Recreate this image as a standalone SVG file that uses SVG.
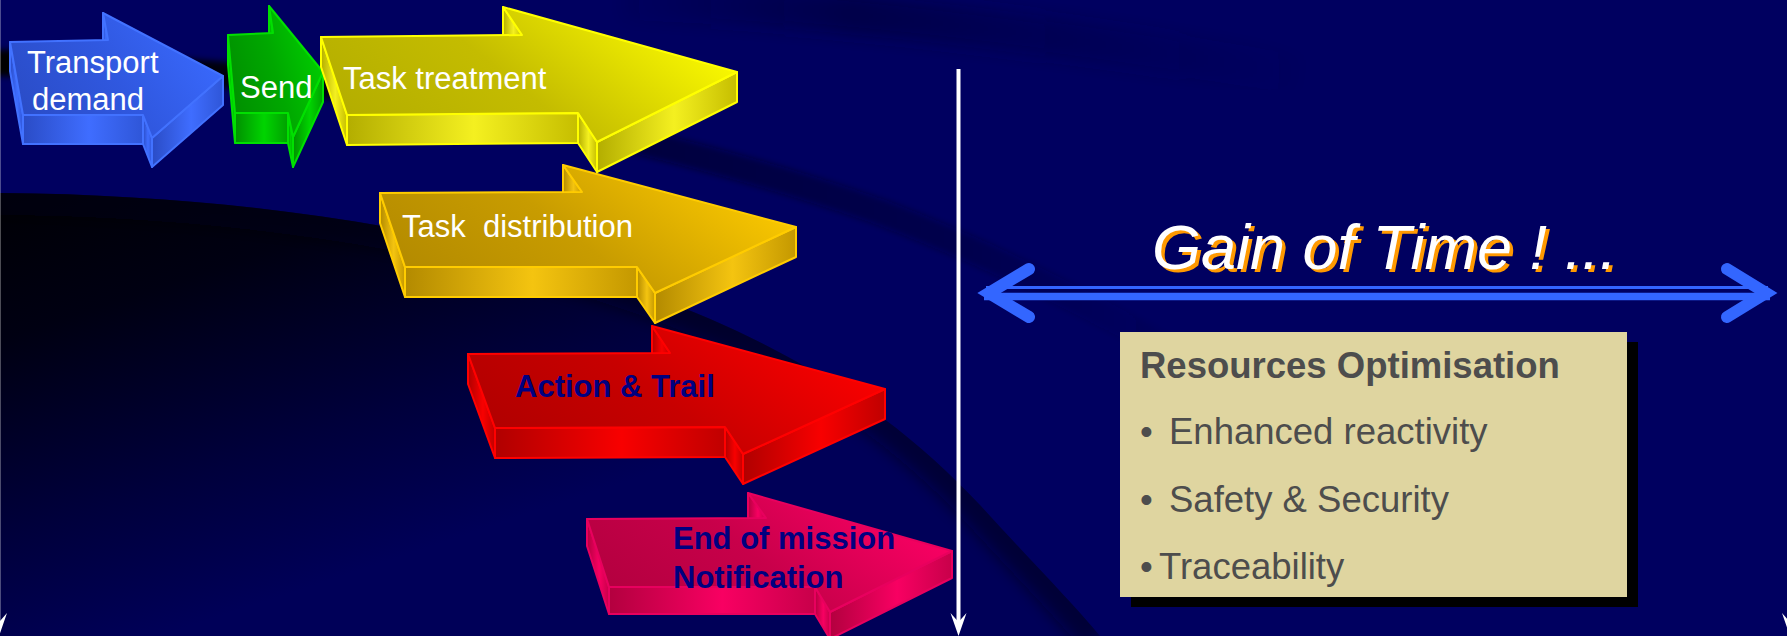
<svg xmlns="http://www.w3.org/2000/svg" width="1787" height="636" viewBox="0 0 1787 636">
<style>
.t{font-family:"Liberation Sans",Arial,Helvetica,sans-serif}
.w{fill:#ffffff;font-size:31px}
.n{fill:#000080;font-size:31px;font-weight:bold}
.g{fill:#4d4d4d;font-size:36.5px}
.edge{stroke-width:2;stroke-linejoin:round}
.blue{stroke:#4272ff}.green{stroke:#00e000}.yellow{stroke:#ffff00}.gold{stroke:#ffcc00}.red{stroke:#ff0000}.pink{stroke:#e8005e}
</style>
<defs>
<linearGradient id="regionG" gradientUnits="userSpaceOnUse" x1="0" y1="190" x2="150" y2="640">
<stop offset="0" stop-color="#000004"/><stop offset="0.3" stop-color="#000012"/><stop offset="0.7" stop-color="#00003c"/><stop offset="1" stop-color="#000058"/>
</linearGradient>
<clipPath id="regionClip"><path d="M0,193 C260,195 480,235 650,295 C800,350 900,420 980,505 C1030,560 1070,600 1100,636 L0,636 Z"/></clipPath>
<filter id="blur8" x="-20%" y="-20%" width="140%" height="140%"><feGaussianBlur stdDeviation="8"/></filter>
<filter id="blur3" x="-10%" y="-50%" width="120%" height="200%"><feGaussianBlur stdDeviation="3"/></filter>
<linearGradient id="bandA" gradientUnits="userSpaceOnUse" x1="0" y1="0" x2="1200" y2="0">
<stop offset="0" stop-color="#000000" stop-opacity="1"/><stop offset="0.3" stop-color="#000005" stop-opacity="0.8"/><stop offset="0.55" stop-color="#000010" stop-opacity="0.45"/><stop offset="0.8" stop-color="#000020" stop-opacity="0.3"/><stop offset="1" stop-color="#000030" stop-opacity="0"/>
</linearGradient>
<linearGradient id="bandD" gradientUnits="userSpaceOnUse" x1="600" y1="0" x2="1320" y2="0">
<stop offset="0" stop-color="#000030" stop-opacity="0"/><stop offset="0.35" stop-color="#000030" stop-opacity="0.45"/><stop offset="1" stop-color="#000040" stop-opacity="0"/>
</linearGradient>
<linearGradient id="blueT" x1="0" y1="0.7" x2="1" y2="0.3"><stop offset="0" stop-color="#2a4cc6"/><stop offset="0.5" stop-color="#3058e0"/><stop offset="1" stop-color="#3a6aff"/></linearGradient>
<linearGradient id="blueS" x1="0" y1="0" x2="1" y2="0"><stop offset="0" stop-color="#2a4cc6"/><stop offset="0.55" stop-color="#3f6dff"/><stop offset="1" stop-color="#2f56d8"/></linearGradient>
<linearGradient id="greenT" x1="0" y1="0.7" x2="1" y2="0.3"><stop offset="0" stop-color="#008e00"/><stop offset="0.5" stop-color="#00a800"/><stop offset="1" stop-color="#00d000"/></linearGradient>
<linearGradient id="greenS" x1="0" y1="0" x2="1" y2="0"><stop offset="0" stop-color="#009000"/><stop offset="0.55" stop-color="#00d400"/><stop offset="1" stop-color="#00a000"/></linearGradient>
<linearGradient id="yellowT" x1="0" y1="0.7" x2="1" y2="0.3"><stop offset="0" stop-color="#b3ad00"/><stop offset="0.45" stop-color="#c4bc00"/><stop offset="1" stop-color="#ffff00"/></linearGradient>
<linearGradient id="yellowS" x1="0" y1="0" x2="1" y2="0"><stop offset="0" stop-color="#b3ad00"/><stop offset="0.55" stop-color="#f4f020"/><stop offset="1" stop-color="#c6be00"/></linearGradient>
<linearGradient id="goldT" x1="0" y1="0.7" x2="1" y2="0.3"><stop offset="0" stop-color="#b38a00"/><stop offset="0.45" stop-color="#c89c00"/><stop offset="1" stop-color="#ffcc00"/></linearGradient>
<linearGradient id="goldS" x1="0" y1="0" x2="1" y2="0"><stop offset="0" stop-color="#b38a00"/><stop offset="0.55" stop-color="#f4c410"/><stop offset="1" stop-color="#c49800"/></linearGradient>
<linearGradient id="redT" x1="0" y1="0.7" x2="1" y2="0.3"><stop offset="0" stop-color="#b00000"/><stop offset="0.45" stop-color="#c80000"/><stop offset="1" stop-color="#ff0000"/></linearGradient>
<linearGradient id="redS" x1="0" y1="0" x2="1" y2="0"><stop offset="0" stop-color="#b00000"/><stop offset="0.55" stop-color="#f80000"/><stop offset="1" stop-color="#c00000"/></linearGradient>
<linearGradient id="pinkT" x1="0" y1="0.7" x2="1" y2="0.3"><stop offset="0" stop-color="#b3003f"/><stop offset="0.45" stop-color="#c8004a"/><stop offset="1" stop-color="#ff0066"/></linearGradient>
<linearGradient id="pinkS" x1="0" y1="0" x2="1" y2="0"><stop offset="0" stop-color="#b3003f"/><stop offset="0.55" stop-color="#f80062"/><stop offset="1" stop-color="#c8004a"/></linearGradient>
</defs>

<!-- background -->
<rect x="0" y="0" width="1787" height="636" fill="#000060"/>
<path d="M620,0 C800,5 1000,25 1300,75" fill="none" stroke="url(#bandD)" stroke-width="40" filter="url(#blur8)"/>
<path d="M0,193 C260,195 480,235 650,295 C800,350 900,420 980,505 C1030,560 1070,600 1100,636 L0,636 Z" fill="url(#regionG)"/>
<g clip-path="url(#regionClip)">
<path d="M0,193 C260,195 480,235 650,295 C800,350 900,420 980,505 C1030,560 1070,600 1100,636" fill="none" stroke="#000018" stroke-opacity="0.5" stroke-width="44" filter="url(#blur8)"/>
</g>
<path d="M-10,63 C120,62 300,80 450,102 C600,128 760,170 880,212 C980,250 1070,295 1180,355" fill="none" stroke="url(#bandA)" stroke-width="26" filter="url(#blur3)"/>

<!-- arrows -->
<g id="node-transport-demand">
<g class="edge blue" fill="url(#blueS)">
<polygon points="108,40 103,13 103,42 108,69"/>
<polygon points="23,115 10,42 10,71 23,144"/>
<polygon points="143,115 23,115 23,144 143,144"/>
<polygon points="152,138 143,115 143,144 152,167"/>
<polygon points="223,76 152,138 152,167 223,105"/>
</g>
<polygon class="edge blue" fill="url(#blueT)" points="10,42 108,40 103,13 223,76 152,138 143,115 23,115"/>
<text class="t w" x="27" y="73">Transport</text>
<text class="t w" x="32" y="110">demand</text>
</g>

<g id="node-send">
<g class="edge green" fill="url(#greenS)">
<polygon points="273,33 269,6 269,36 273,63"/>
<polygon points="235,113 228,35 228,65 235,143"/>
<polygon points="288,113 235,113 235,143 288,143"/>
<polygon points="293,137 288,113 288,143 293,167"/>
<polygon points="323,72 293,137 293,167 323,102"/>
</g>
<polygon class="edge green" fill="url(#greenT)" points="228,35 273,33 269,6 323,72 293,137 288,113 235,113"/>
<text class="t w" x="240" y="98">Send</text>
</g>

<g id="node-task-distribution">
<g class="edge gold" fill="url(#goldS)">
<polygon points="582,192 563,165 563,195 582,222"/>
<polygon points="405,267 380,193 380,223 405,297"/>
<polygon points="637,267 405,267 405,297 637,297"/>
<polygon points="655,293 637,267 637,297 655,323"/>
<polygon points="796,227 655,293 655,323 796,257"/>
</g>
<polygon class="edge gold" fill="url(#goldT)" points="380,193 582,192 563,165 796,227 655,293 637,267 405,267"/>
<text class="t w" x="402" y="237" xml:space="preserve">Task  distribution</text>
</g>

<g id="node-task-treatment">
<g class="edge yellow" fill="url(#yellowS)">
<polygon points="522,35 503,7 503,37 522,65"/>
<polygon points="347,115 321,37 321,67 347,145"/>
<polygon points="578,113 347,115 347,145 578,143"/>
<polygon points="597,142 578,113 578,143 597,172"/>
<polygon points="737,72 597,142 597,172 737,102"/>
</g>
<polygon class="edge yellow" fill="url(#yellowT)" points="321,37 522,35 503,7 737,72 597,142 578,113 347,115"/>
<text class="t w" x="343" y="89">Task treatment</text>
</g>

<g id="node-action-trail">
<g class="edge red" fill="url(#redS)">
<polygon points="670,353 652,326 652,356 670,383"/>
<polygon points="495,428 468,354 468,384 495,458"/>
<polygon points="725,427 495,428 495,458 725,457"/>
<polygon points="743,454 725,427 725,457 743,484"/>
<polygon points="885,389 743,454 743,484 885,419"/>
</g>
<polygon class="edge red" fill="url(#redT)" points="468,354 670,353 652,326 885,389 743,454 725,427 495,428"/>
<text class="t n" x="515" y="397">Action &amp; Trail</text>
</g>

<g id="node-end-of-mission">
<g class="edge pink" fill="url(#pinkS)">
<polygon points="766,518 748,493 748,520 766,545"/>
<polygon points="609,587 587,519 587,546 609,614"/>
<polygon points="815,587 609,587 609,614 815,614"/>
<polygon points="830,612 815,587 815,614 830,639"/>
<polygon points="952,551 830,612 830,639 952,578"/>
</g>
<polygon class="edge pink" fill="url(#pinkT)" points="587,519 766,518 748,493 952,551 830,612 815,587 609,587"/>
<text class="t n" x="673" y="549">End of mission</text>
<text class="t n" x="673" y="588">Notification</text>
</g>

<!-- connectors -->
<g id="connectors">
<line x1="958.5" y1="69" x2="958.5" y2="626" stroke="#ffffff" stroke-width="4"/>
<path d="M950.5,613 L958.5,636 L966.5,613 L958.5,622 Z" fill="#ffffff"/>
<line x1="-1.2" y1="0" x2="-1.2" y2="626" stroke="#ffffff" stroke-width="3"/>
<path d="M-9,613 L-1,636 L7,613 L-1,622 Z" fill="#ffffff"/>
<line x1="1790" y1="0" x2="1790" y2="626" stroke="#ffffff" stroke-width="4"/>
<path d="M1782,613 L1790,636 L1798,613 L1790,622 Z" fill="#ffffff"/>
<g id="gain-arrow" stroke="#3366ff" fill="none">
<line x1="986" y1="287.5" x2="1768" y2="287.5" stroke-width="3"/>
<line x1="984" y1="296.5" x2="1770" y2="296.5" stroke-width="7.5"/>
<polyline points="1029,269 989,293 1029,317" stroke-width="12" stroke-linecap="round" stroke-linejoin="miter"/>
<polyline points="1727,269 1766,293 1727,317" stroke-width="12" stroke-linecap="round" stroke-linejoin="miter"/>
</g>
</g>

<g id="gain-title">
<text class="t" x="1155.5" y="272" font-size="63" font-style="italic" fill="#ff9900">Gain of Time ! ...</text>
<text class="t" x="1152" y="269" font-size="63" font-style="italic" fill="#ffffff">Gain of Time ! ...</text>
</g>

<g id="node-resources">
<rect x="1131" y="342" width="507" height="265" fill="#000000"/>
<rect x="1120" y="332" width="507" height="265" fill="#dfd5a0"/>
<text class="t g" x="1140" y="378" font-weight="bold">Resources Optimisation</text>
<text class="t g" y="444"><tspan x="1140">•</tspan><tspan x="1169">Enhanced reactivity</tspan></text>
<text class="t g" y="512"><tspan x="1140">•</tspan><tspan x="1169">Safety &amp; Security</tspan></text>
<text class="t g" y="579"><tspan x="1140">•</tspan><tspan x="1159">Traceability</tspan></text>
</g>
</svg>
